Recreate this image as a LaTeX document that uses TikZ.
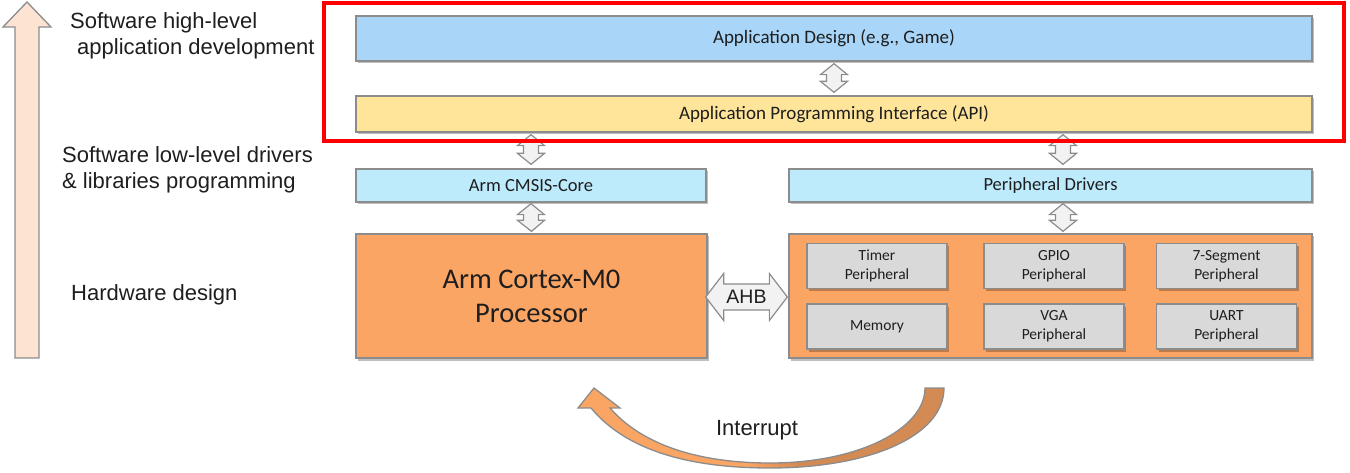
\documentclass[tikz,border=0pt]{standalone}
\usepackage{fontspec}
\setmainfont{Liberation Sans}
\newfontfamily\calfont{Carlito}
\usetikzlibrary{shadows,calc}
\definecolor{bgray}{HTML}{8C8C8C}
\definecolor{appblue}{HTML}{A9D6F8}
\definecolor{apiyel}{HTML}{FFE59A}
\definecolor{drvcyan}{HTML}{BDEBFC}
\definecolor{orng}{HTML}{FBA564}
\definecolor{orngdark}{HTML}{D38A53}
\definecolor{inngray}{HTML}{D9D9D9}
\definecolor{peach}{HTML}{FDE4D2}
\definecolor{arrgray}{HTML}{F2F2F2}
\definecolor{txt}{HTML}{1E1E1E}
\pgfdeclarehorizontalshading{intsh}{100bp}{color(0bp)=(orng); color(48bp)=(orng);
  color(55bp)=(orngdark); color(100bp)=(orngdark)}
\newcommand\vdarr[2]{%
  \draw[darr] let \p1=(#1), \p2=(#2) in
    (\p1) -- (\x1+13.5pt,\y1-11pt) -- (\x1+7.5pt,\y1-11pt) -- (\x1+7.5pt,\y2+11pt)
    -- (\x1+13.5pt,\y2+11pt) -- (\p2) -- (\x1-13.5pt,\y2+11pt) -- (\x1-7.5pt,\y2+11pt)
    -- (\x1-7.5pt,\y1-11pt) -- (\x1-13.5pt,\y1-11pt) -- cycle;}
\newcommand\intshape{(944,388) .. controls (944,436) and (870,468) .. (770,468)
  .. controls (700,468) and (630,455) .. (591,408) -- (578,408) -- (594,388)
  -- (620,408) -- (610,408) .. controls (645,448) and (705,463) .. (770,463)
  .. controls (860,463) and (925,428) .. (925,388) -- cycle}
\begin{document}
\begin{tikzpicture}[x=1pt,y=-1pt,
  shd/.style={drop shadow={shadow xshift=2pt,shadow yshift=-2.5pt,opacity=0.25,fill=black}},
  box/.style={draw=bgray,line width=1.3pt,inner sep=0pt,shd,text=txt},
  inbox/.style={box,fill=inngray,minimum width=140pt,minimum height=45pt,align=center,
    font=\calfont\fontsize{15.5}{19}\selectfont},
  darr/.style={draw=bgray,fill=arrgray,line width=1.2pt,line join=miter},
  lbl/.style={anchor=base west,inner sep=0pt,text=txt,font=\fontsize{22}{26}\selectfont}]
\useasboundingbox (0,0) rectangle (1350,473);
% left arrow
\draw[draw=bgray,fill=peach,line width=1.3pt] (27,2) -- (51,27) -- (39,27) -- (39,358)
  -- (15,358) -- (15,27) -- (3,27) -- cycle;
\node[lbl] (l1) at (70,29) {Software high-level};
\node[lbl] (l2) at (77,55) {application development};
\node[lbl] (l3) at (62,163) {Software low-level drivers};
\node[lbl] (l4) at (62,189) {\& libraries programming};
\node[lbl] (l5) at (71,300) {Hardware design};
% boxes
\node[box,fill=appblue,minimum width=956pt,minimum height=45pt,
  font=\calfont\fontsize{19}{22}\selectfont] (app) at (834,38.5) {Application Design (e.g., Game)};
\node[box,fill=apiyel,minimum width=956pt,minimum height=36pt,
  font=\calfont\fontsize{19}{22}\selectfont] (api) at (834,114) {Application Programming Interface (API)};
\node[box,fill=drvcyan,minimum width=350pt,minimum height=33pt,
  font=\calfont\fontsize{18.5}{22}\selectfont] (cmsis) at (531,185.5) {Arm CMSIS-Core};
\node[box,fill=drvcyan,minimum width=523pt,minimum height=33pt,
  font=\calfont\fontsize{18.5}{22}\selectfont] (pdrv) at (1050.5,185.5) {Peripheral Drivers};
\node[box,fill=orng,minimum width=351pt,minimum height=124pt,align=center,
  font=\calfont\fontsize{28.5}{34}\selectfont] (cpu) at (531.5,296) {Arm Cortex-M0\\Processor};
\node[box,fill=orng,minimum width=523pt,minimum height=124pt] (per) at (1050.5,296) {};
\node[inbox] (timer) at (877,266) {Timer\\Peripheral};
\node[inbox] (gpio) at (1054,266) {GPIO\\Peripheral};
\node[inbox] (seg) at (1226.5,266) {7-Segment\\Peripheral};
\node[inbox] (mem) at (877,326.5) {Memory};
\node[inbox] (vga) at (1054,326.5) {VGA\\Peripheral};
\node[inbox] (uart) at (1226.5,326.5) {UART\\Peripheral};
% vertical double arrows
\coordinate (a1t) at ($(app.south)+(0,2)$);
\coordinate (a1b) at ($(api.north)+(0,-3)$);
\vdarr{a1t}{a1b}
\coordinate (a2t) at ($(cmsis.north |- api.south)+(0,2)$);
\coordinate (a2b) at ($(cmsis.north)+(0,-4)$);
\vdarr{a2t}{a2b}
\coordinate (a3t) at ($(cmsis.south)+(0,1)$);
\coordinate (a3b) at ($(cpu.north)+(0,-2)$);
\vdarr{a3t}{a3b}
\coordinate (a4t) at ($(pdrv.north |- api.south)+(12.5,2)$);
\coordinate (a4b) at ($(pdrv.north)+(12.5,-4)$);
\vdarr{a4t}{a4b}
\coordinate (a5t) at ($(pdrv.south)+(12.5,1)$);
\coordinate (a5b) at ($(per.north)+(12.5,-2)$);
\vdarr{a5t}{a5b}
% AHB arrow
\coordinate (ahbl) at ($(cpu.east)+(-2,1)$);
\coordinate (ahbr) at ($(per.west)+(-1,1)$);
\draw[darr] let \p1=(ahbl), \p2=(ahbr) in
  (\p1) -- (\x1+18pt,\y1+23.5pt) -- (\x1+18pt,\y1+13pt) -- (\x2-18pt,\y1+13pt)
  -- (\x2-18pt,\y1+23.5pt) -- (\p2) -- (\x2-18pt,\y1-23.5pt) -- (\x2-18pt,\y1-13pt)
  -- (\x1+18pt,\y1-13pt) -- (\x1+18pt,\y1-23.5pt) -- cycle;
\node[text=txt,font=\fontsize{19.5}{22}\selectfont] (ahb) at ($(ahbl)!0.5!(ahbr)$) {AHB};
% interrupt arrow
\shade[shading=intsh] \intshape;
\draw[bgray,line width=1.3pt,line join=miter] \intshape;
\node[text=txt,font=\fontsize{22}{26}\selectfont] (intr) at (757,430) {Interrupt};
% red frame
\draw[red,line width=3.5pt] (324,3) rectangle (1344,141);
\end{tikzpicture}
\end{document}
